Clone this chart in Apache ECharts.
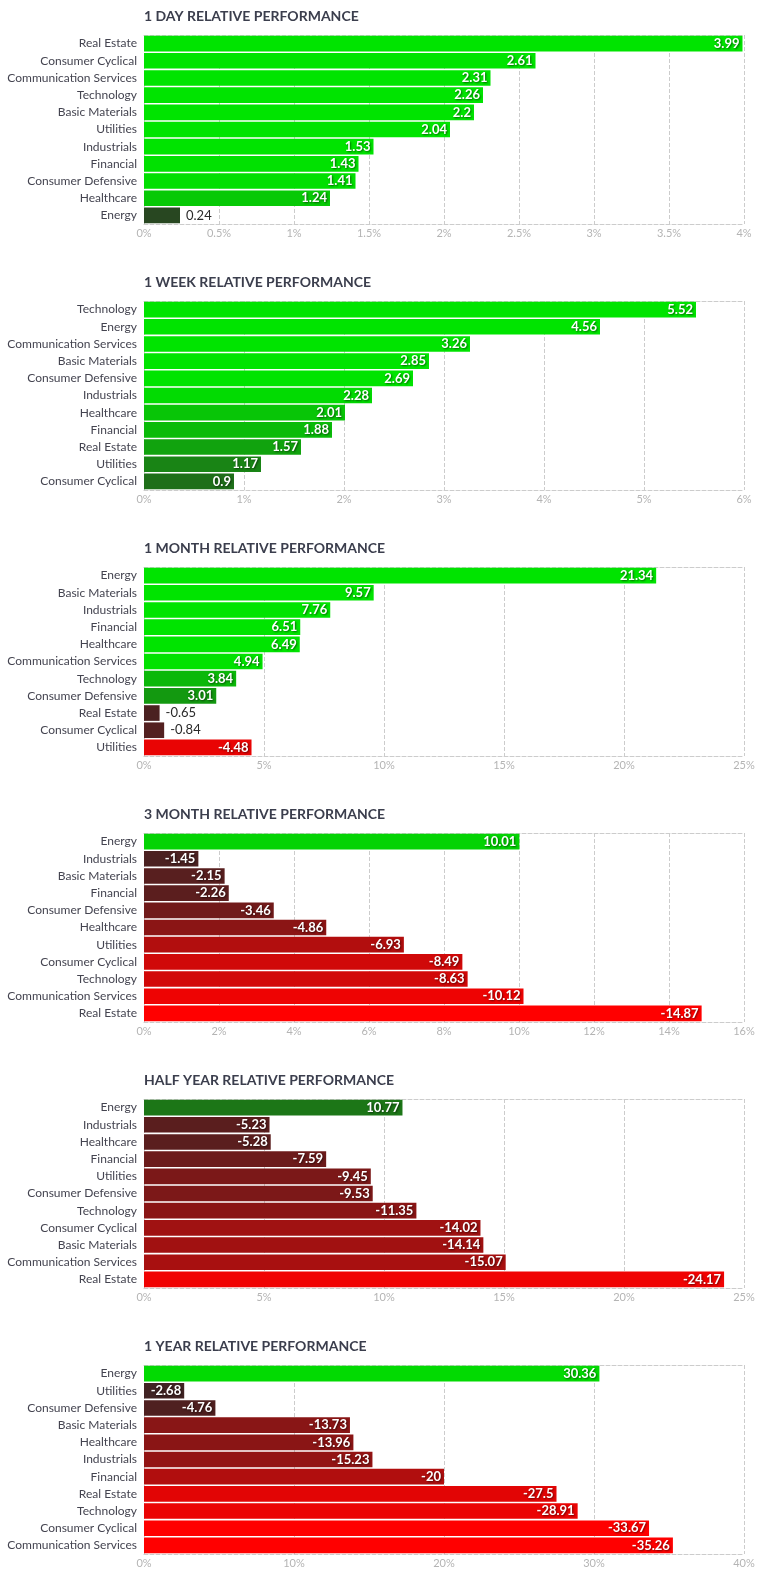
<!DOCTYPE html>
<html>
<head>
<meta charset="utf-8">
<script src="https://cdn.jsdelivr.net/npm/echarts@6/dist/echarts.min.js"></script>
<style>
html,body{margin:0;padding:0;background:#fff;}
#chart{width:771px;height:1578px;}
</style>
</head>
<body>
<div id="chart"></div>
<script>
// ---- data ----
const titles = [
  "1 DAY RELATIVE PERFORMANCE",
  "1 WEEK RELATIVE PERFORMANCE",
  "1 MONTH RELATIVE PERFORMANCE",
  "3 MONTH RELATIVE PERFORMANCE",
  "HALF YEAR RELATIVE PERFORMANCE",
  "1 YEAR RELATIVE PERFORMANCE"
];

const dayCategories = ["Real Estate","Consumer Cyclical","Communication Services","Technology","Basic Materials","Utilities","Industrials","Financial","Consumer Defensive","Healthcare","Energy"];
const dayValues = [3.99,2.61,2.31,2.26,2.2,2.04,1.53,1.43,1.41,1.24,0.24];

const weekCategories = ["Technology","Energy","Communication Services","Basic Materials","Consumer Defensive","Industrials","Healthcare","Financial","Real Estate","Utilities","Consumer Cyclical"];
const weekValues = [5.52,4.56,3.26,2.85,2.69,2.28,2.01,1.88,1.57,1.17,0.9];

const monthCategories = ["Energy","Basic Materials","Industrials","Financial","Healthcare","Communication Services","Technology","Consumer Defensive","Real Estate","Consumer Cyclical","Utilities"];
const monthValues = [21.34,9.57,7.76,6.51,6.49,4.94,3.84,3.01,-0.65,-0.84,-4.48];

const quarterCategories = ["Energy","Industrials","Basic Materials","Financial","Consumer Defensive","Healthcare","Utilities","Consumer Cyclical","Technology","Communication Services","Real Estate"];
const quarterValues = [10.01,-1.45,-2.15,-2.26,-3.46,-4.86,-6.93,-8.49,-8.63,-10.12,-14.87];

const halfCategories = ["Energy","Industrials","Healthcare","Financial","Utilities","Consumer Defensive","Technology","Consumer Cyclical","Basic Materials","Communication Services","Real Estate"];
const halfValues = [10.77,-5.23,-5.28,-7.59,-9.45,-9.53,-11.35,-14.02,-14.14,-15.07,-24.17];

const yearCategories = ["Energy","Utilities","Consumer Defensive","Basic Materials","Healthcare","Industrials","Financial","Real Estate","Technology","Consumer Cyclical","Communication Services"];
const yearValues = [30.36,-2.68,-4.76,-13.73,-13.96,-15.23,-20,-27.5,-28.91,-33.67,-35.26];

// axis scales (max, interval)
const axisMax = [4, 6, 25, 16, 25, 40];
const axisInterval = [0.5, 1, 5, 2, 5, 10];

// ---- styling ----
const colorSaturation = [1.45, 2.4, 5, 11, 26, 32];
const panelCategories = [dayCategories, weekCategories, monthCategories, quarterCategories, halfCategories, yearCategories];
const panelValues = [dayValues, weekValues, monthValues, quarterValues, halfValues, yearValues];

function colorFor(v, sat) {
  const t = Math.min(Math.abs(v) / sat, 1);
  let r, g, b;
  if (v >= 0) { r = 48 * (1 - t); g = 40 + 188 * t; b = 40 * (1 - t); }
  else { r = 48 + 207 * t; g = 38 * (1 - t); b = 38 * (1 - t); }
  return 'rgb(' + Math.round(r) + ',' + Math.round(g) + ',' + Math.round(b) + ')';
}

const FONT = 'Lato, "Open Sans", sans-serif';
const PANEL_STEP = 266;
const GRID_TOP = 35;
const GRID_H = 189;

const option = {
  animation: false,
  backgroundColor: '#fff',
  title: [], grid: [], xAxis: [], yAxis: [], series: []
};

for (let k = 0; k < 6; k++) {
  const cats = panelCategories[k];
  const vals = panelValues[k];
  const max = axisMax[k];
  const sat = colorSaturation[k];
  option.title.push({
    text: titles[k], left: 144, top: 8 + PANEL_STEP * k, padding: 0,
    textStyle: { fontFamily: FONT, fontSize: 14, fontWeight: 'bold', color: '#3b3e4d', lineHeight: 16 }
  });
  option.grid.push({ left: 144, width: 600, top: GRID_TOP + PANEL_STEP * k, height: GRID_H });
  option.xAxis.push({
    type: 'value', gridIndex: k, min: 0, max: max, interval: axisInterval[k], position: 'bottom',
    axisLine: { show: true, lineStyle: { color: '#cccccc', type: 'dashed', width: 1 } },
    axisTick: { show: false },
    splitLine: { show: true, lineStyle: { color: '#cccccc', type: 'dashed', width: 1 } },
    axisLabel: { color: '#b4b4b4', fontFamily: FONT, fontSize: 11, margin: 4,
      formatter: function (v) { return v + '%'; } }
  });
  option.xAxis.push({
    type: 'value', gridIndex: k, min: 0, max: max, interval: axisInterval[k], position: 'top',
    axisLine: { show: true, lineStyle: { color: '#cccccc', type: 'dashed', width: 1 } },
    axisTick: { show: false }, splitLine: { show: false }, axisLabel: { show: false }
  });
  option.yAxis.push({
    type: 'category', gridIndex: k, data: cats, inverse: true,
    axisLine: { show: false }, axisTick: { show: false },
    axisLabel: { color: '#444450', fontFamily: FONT, fontSize: 12, margin: 7 }
  });
  const data = vals.map(function (v) {
    const outside = Math.abs(v) / max < 0.065;
    return {
      value: Math.abs(v),
      itemStyle: { color: colorFor(v, sat) },
      label: outside ? {
        position: 'right', distance: 6, color: '#2a2a2a', fontWeight: 'normal',
        textShadowBlur: 0, textShadowColor: 'transparent'
      } : {
        position: 'insideRight', distance: 3, color: '#ffffff', fontWeight: 'bold',
        textShadowColor: 'rgba(0,0,0,0.55)', textShadowBlur: 2, textShadowOffsetX: 1, textShadowOffsetY: 1
      }
    };
  });
  option.series.push({
    type: 'bar', xAxisIndex: 2 * k, yAxisIndex: k, data: data,
    barCategoryGap: '9%',
    label: {
      show: true, fontFamily: FONT, fontSize: 13,
      formatter: (function (arr) { return function (p) { return String(arr[p.dataIndex]); }; })(vals)
    }
  });
}

const chart = echarts.init(document.getElementById('chart'), null, { renderer: 'canvas' });
chart.setOption(option);
</script>
</body>
</html>
